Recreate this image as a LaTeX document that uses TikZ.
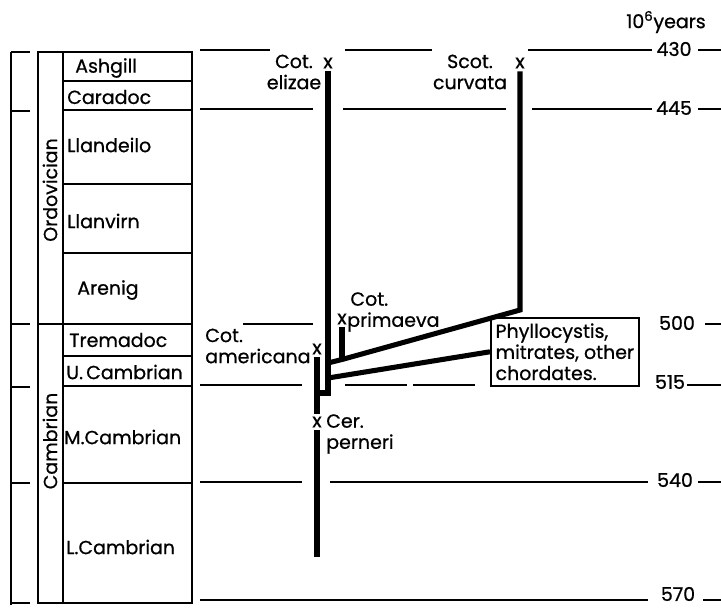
\documentclass[tikz,border=0pt]{standalone}
\usepackage{fontspec}
\setmainfont{Poppins}[FakeBold=0.7]
\usetikzlibrary{calc}

\begin{document}
\begin{tikzpicture}[x=0.25mm,y=-0.25mm,
    thinline/.style={line width=1.1pt},
    branch/.style={line width=3.6pt},
    lbl/.style={font=\fontsize{13.5}{15}\selectfont, inner sep=0pt, align=center},
    tip/.style={font=\fontsize{14}{15}\selectfont, inner sep=2pt}]
    \useasboundingbox (0,0) rectangle (721,608);
    %% bracket on the far left
    \draw[thinline] (11,52) -- (11,605);
    \foreach \y in {52,111,324,387,483,603}{
        \draw[thinline] (11,\y) -- (30,\y);
    }
    %% the stratigraphic column
    \draw[thinline] (38,52) rectangle (192,603);
    \draw[thinline] (63,52) -- (63,603);
    \draw[thinline] (38,324) -- (192,324);
    \foreach \y in {81,110,184,253,356,386,483}{
        \draw[thinline] (63,\y) -- (192,\y);
    }
    \node[lbl,rotate=90] (ordovician) at (50,190) {Ordovician};
    \node[lbl,rotate=90] (cambrian) at (50,441) {Cambrian};
    \foreach \name/\x/\y [count=\i] in {Ashgill/75/68, Caradoc/67/97, Llandeilo/67/145,
        Llanvirn/67/221, Arenig/77/290, Tremadoc/69/340, U.\,Cambrian/66/372,
        M.Cambrian/64/437, L.Cambrian/66/547}{
        \node[lbl,anchor=west] (stage\i) at (\x,\y) {\name};
    }
    %% time lines, broken where the tree and labels cross them
    \foreach \y/\a/\b in {50/200/270, 50/345/432, 50/528/652, 50/698/721,
        109/200/313, 109/343/506, 109/532/652, 109/698/721,
        324/243/313, 324/705/721,
        385/200/302, 385/345/407, 385/413/475, 385/687/721,
        482/200/302, 482/330/648, 482/698/721,
        600/200/648, 600/703/721}{
        \draw[thinline] (\a,\y) -- (\b,\y);
    }
    \foreach \t/\x/\y in {430/674/49, 445/674/108, 500/677/323,
        515/670/382, 540/675/480, 570/678/594}{
        \node[lbl] (age\t) at (\x,\y) {\t};
    }
    \node[lbl] (unit) at (666,22) {10\textsuperscript{6}years};
    %% the tree
    \coordinate (base) at (317,557);
    \coordinate (fork) at (317,393);
    \coordinate (jog) at (328,393);
    \coordinate (curvj) at (328,363);
    \coordinate (primj) at (342,359.5);
    \coordinate (curvk) at (520,310);
    \coordinate (phylj) at (328,378);
    \node[tip] (xeliz) at (328,63) {x};
    \node[tip] (xcurv) at (520,63) {x};
    \node[tip] (xprim) at (342,319) {x};
    \node[tip] (xamer) at (317,349) {x};
    \node[tip] (xcer) at (317,422) {x};
    \node[draw,thinline,align=left,font=\fontsize{13.5}{15}\selectfont,
        inner xsep=1.2mm,inner ysep=1.4mm,anchor=north west] (phyl) at (490,317)
        {Phyllocystis,\\mitrates, other\\chordates.};
    \draw[branch] (base) -- (xcer.south);
    \draw[branch] (xcer.north) -- (fork) -- (xamer.south);
    \draw[branch] (fork) -- (jog) -- (xeliz.south);
    \draw[branch] (curvj) -- (primj) -- (curvk) -- (xcurv.south);
    \draw[branch] (primj) -- (xprim.south);
    \draw[branch] (phylj) -- (phyl.west);
    %% species names
    \node[lbl] (eliz) at (294,72) {Cot.\\elizae};
    \node[lbl] (curv) at (470,72) {Scot.\\curvata};
    \node[lbl,align=left,anchor=west] (prim) at (347,312) {\,Cot.\\primaeva};
    \node[lbl,align=left,anchor=west] (amer) at (205,346) {Cot.\\americana};
    \node[lbl,align=left,anchor=west] (cer) at (326,434) {Cer.\\perneri};
\end{tikzpicture}
\end{document}
